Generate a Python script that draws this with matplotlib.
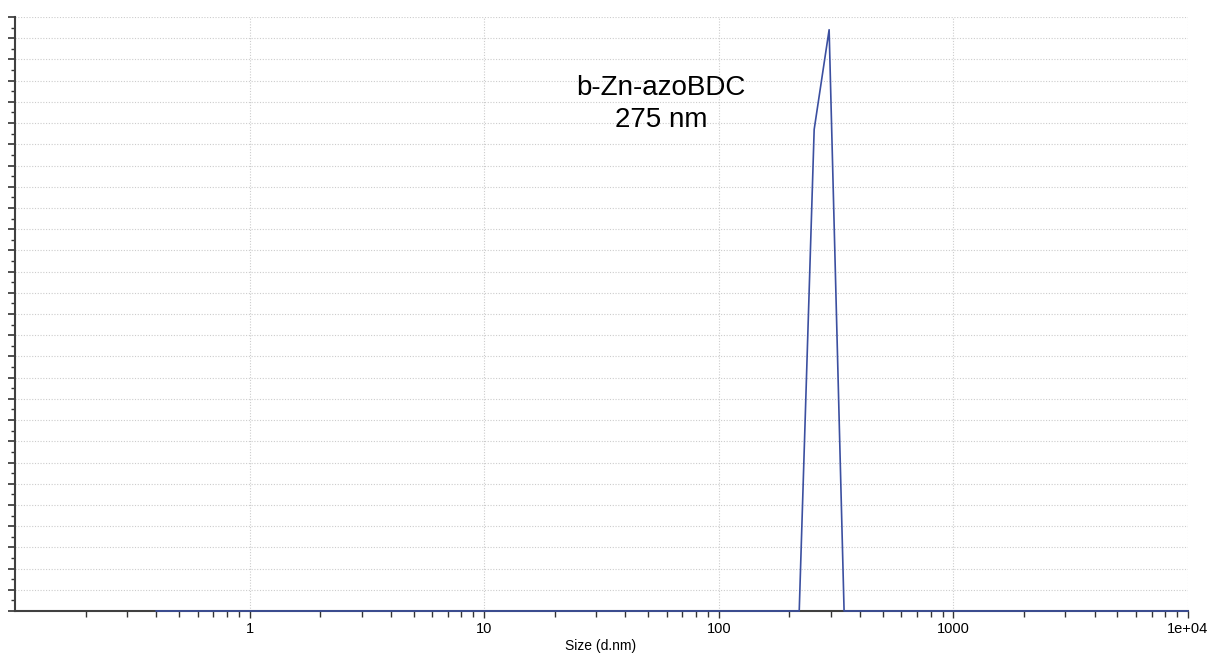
import matplotlib
matplotlib.use("Agg")
import matplotlib.pyplot as plt
from matplotlib.ticker import FixedLocator, MultipleLocator, NullFormatter

# size distribution (Malvern bins, only the non-trivial ones kept)
size_nm = [0.4, 190.1, 220.2, 255.0, 295.3, 342.0, 10000]
intensity = [0, 0, 0, 22.7, 27.4, 0, 0]

xticks = [1, 10, 100, 1000, 10000]
xticklabels = ["1", "10", "100", "1000", "1e+04"]
label = "b-Zn-azoBDC\n275 nm"

plt.rcParams["font.family"] = ["Liberation Sans", "DejaVu Sans"]

fig = plt.figure(figsize=(12.09, 6.55), dpi=100)
ax = fig.add_axes([15 / 1209, 1 - 611 / 655, (1188 - 15) / 1209, (611 - 17) / 655])

ax.plot(size_nm, intensity, color="#3b4fa0", lw=1.2, zorder=3, clip_on=False)

ax.set_xscale("log")
ax.set_xlim(0.1, 10000)
ax.set_ylim(0, 28)

ax.xaxis.set_major_locator(FixedLocator(xticks))
ax.set_xticklabels(xticklabels)
ax.xaxis.set_minor_formatter(NullFormatter())
ax.yaxis.set_major_locator(MultipleLocator(1))
ax.yaxis.set_minor_locator(MultipleLocator(0.5))
ax.set_yticklabels([])

ax.grid(True, which="major", axis="both", color="#cccccc", ls=(0, (1, 1.5)), lw=0.8)
ax.tick_params(axis="x", which="major", length=5, width=1, colors="#333333",
               labelcolor="black", labelsize=10.5, pad=3)
ax.tick_params(axis="x", which="minor", length=4, width=1, colors="#333333")
ax.tick_params(axis="y", which="major", length=5, width=1.2, colors="#333333")
ax.tick_params(axis="y", which="minor", length=3, width=1, colors="#333333")

for s in ["top", "right"]:
    ax.spines[s].set_visible(False)
ax.spines["left"].set_color("#404040")
ax.spines["left"].set_linewidth(1.5)
ax.spines["bottom"].set_color("#404040")
ax.spines["bottom"].set_linewidth(1.5)

# axis title sits very close to the bottom edge
fig.text(601 / 1209, 1 - 646 / 655, "Size (d.nm)", ha="center", va="center",
         fontsize=10)

ax.text(0.551, 0.8535, label, transform=ax.transAxes, ha="center", va="center",
        fontsize=20, linespacing=1.3)

fig.savefig("out.png", dpi=100, facecolor="white")
